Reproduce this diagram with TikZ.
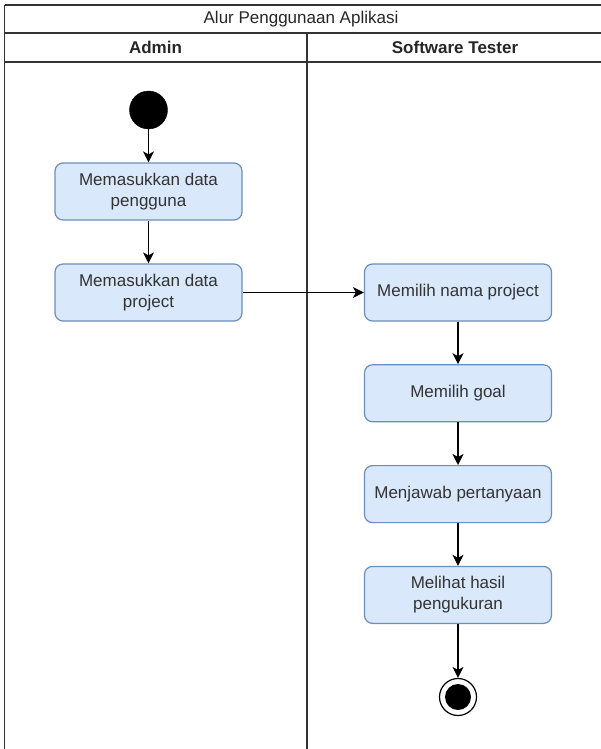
\documentclass[tikz,border=0pt]{standalone}
\usepackage{fontspec}
\setmainfont{Liberation Sans}
\usetikzlibrary{positioning,arrows.meta}
\definecolor{actfill}{HTML}{DAE8FC}
\definecolor{actline}{HTML}{6C8EBF}
\definecolor{laneline}{HTML}{333333}
\tikzset{
  activity/.style={
    shape = rectangle,
    rounded corners = 8pt,
    draw = actline,
    fill = actfill,
    line width = 1.2pt,
    minimum width = 187pt,
    minimum height = 57pt,
    align = center,
    text = black!80,
    font = \fontsize{17}{21}\selectfont
  },
}
\tikzset{
  initial/.style={
    shape = circle,
    draw,
    fill = black,
    minimum size = 38pt,
    inner sep = 0pt
  },
  final/.style={
    shape = circle,
    draw,
    line width = 1.2pt,
    fill = white,
    minimum size = 37pt,
    inner sep = 0pt,
    path picture = {\fill[black] (path picture bounding box.center) circle (13pt);}
  },
  flow/.style={
    line width = 1.3pt,
    -{Stealth[length=11pt,width=11pt,inset=3pt]}
  },
  lane/.style={
    draw = laneline,
    line width = 1.5pt
  },
  title/.style={
    font = \fontsize{17}{20}\selectfont,
    text = black!85
  },
  header/.style={
    font = \fontsize{17}{20}\selectfont\bfseries,
    text = black!85
  }
}

\begin{document}
\begin{tikzpicture}[x=1pt,y=-1pt,node distance=42.6pt]
    \useasboundingbox (0,0) rectangle (601,749);
    \def\xl{4.5}
    \def\xm{307}
    \def\xr{615}
    \def\yb{760}
    % pool and lanes
    \draw[lane] (\xl,5) -- (\xr,5);
    \draw[lane] (\xl,33) -- (\xr,33);
    \draw[lane] (\xl,62) -- (\xr,62);
    \draw[lane] (\xl,5) -- (\xl,\yb);
    \draw[lane] (\xm,33) -- (\xm,\yb);
    \node[title] (pool) at (301,19) {Alur Penggunaan Aplikasi};
    \node[header] (admin) at (155.5,47.5) {Admin};
    \node[header] (tester) at (455,47.5) {Software Tester};
    % admin lane
    \node[initial] (start) at (148.5,110) {};
    \node[activity] (a1) at (148.5,191.5) {Memasukkan data\\pengguna};
    \node[activity] (a2) at (148.5,292.5) {Memasukkan data\\project};
    % tester lane
    \node[activity] (t1) at (458,292.5) {Memilih nama project};
    \node[activity, below=of t1] (t2) {Memilih goal};
    \node[activity, below=of t2] (t3) {Menjawab pertanyaan};
    \node[activity, below=of t3] (t4) {Melihat hasil\\pengukuran};
    \node[final] (stop) at (458,697) {};
    \foreach \a/\b in {start/a1, a1/a2, t1/t2, t2/t3, t3/t4, t4/stop}{
    \draw[flow] (\a) -- (\b);}
    \draw[flow] (a2) -- (t1);
\end{tikzpicture}
\end{document}
